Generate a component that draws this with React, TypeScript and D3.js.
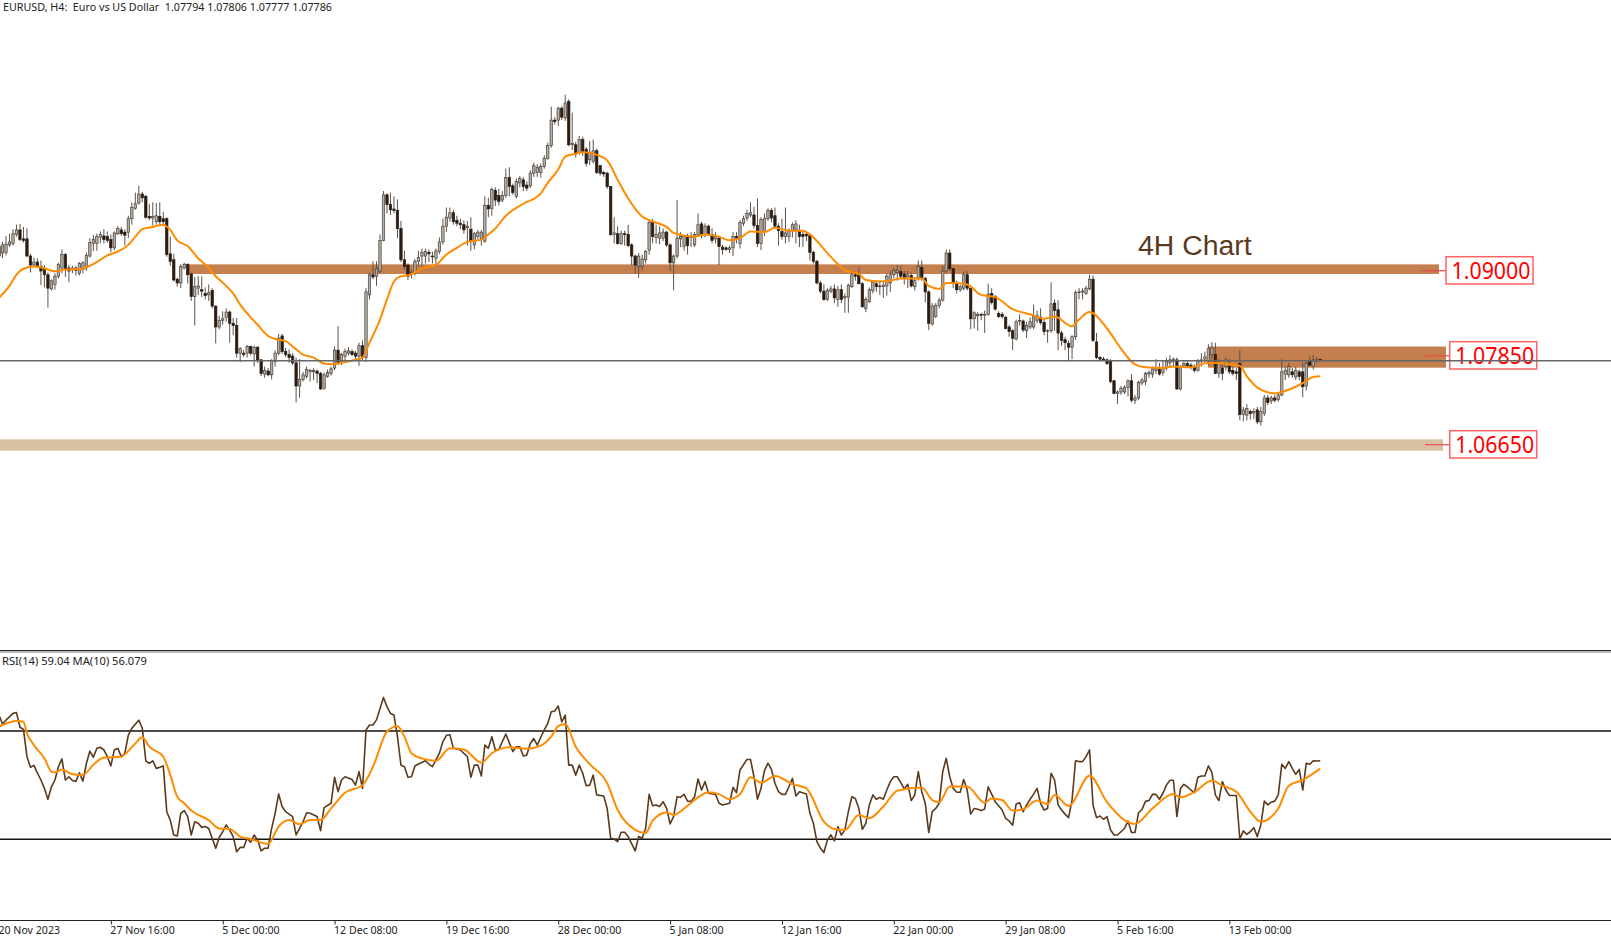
import * as d3 from "d3";
import { useEffect, useRef } from "react";

// prices are kept in pips above 1.0000
const opens = [
  931,922,923,933,935,947,953,941,941,918, 906,910,904,900,893,874,880,891,902,920,
  902,900,902,895,900,902,918,935,935,943, 945,944,940,929,948,953,950,950,968,982,
  989,1001,998,971,969,964,971,968,968,921, 913,887,882,902,907,894,864,875,873,868,
  866,872,851,823,832,836,843,828,825,788, 788,788,797,787,796,779,760,764,759,777,
  788,811,790,786,784,775,744,753,757,763, 763,764,761,741,757,761,768,792,775,784,
  788,790,788,784,798,782,866,893,891,898, 939,1000,987,981,979,955,913,906,893,895,
  911,918,918,923,918,915,924,937,958,969, 976,966,962,960,956,954,933,944,941,938,
  986,982,1006,999,993,999,1023,1012,998,1016, 1020,1013,1012,1029,1030,1030,1038,1049,1066,1100,
  1100,1116,1103,1125,1067,1067,1056,1074,1061,1047, 1045,1059,1039,1030,1029,1011,947,948,935,948,
  947,933,918,904,904,913,926,964,943,942, 942,950,933,909,918,941,931,944,943,933,
  947,961,947,958,947,941,942,930,929,927, 929,944,935,962,969,973,973,959,935,951,
  968,979,972,958,951,944,944,952,953,951, 947,947,946,923,911,882,871,860,871,874,
  860,873,862,863,877,893,893,881,848,857, 872,881,877,877,878,882,893,896,897,894,
  890,892,877,888,903,888,870,827,837,852, 859,898,922,901,881,873,875,893,875,834,
  838,840,839,840,868,864,841,840,836,823, 818,807,831,831,818,823,823,832,836,829,
  817,818,855,846,815,806,801,796,810,869, 870,868,874,887,803,782,780,779,778,751,
  734,736,736,742,751,725,728,748,750,760, 760,765,766,762,768,775,777,779,740,771,
  774,772,770,765,777,780,777,786,786,761, 768,770,770,765,763,774,706,705,710,708,
  712,696,707,728,724,728,726,732,760,759, 763,756,763,763,744,777,770,778,779.4,
];
const closes = [
  918,933,934,937,948,953,940,939,918,906, 910,905,898,893,875,885,891,907,920,900,
  898,902,899,908,909,919,936,940,944,947, 940,939,929,949,955,948,946,968,983,988,
  1001,996,970,969,971,972,964,964,920,911, 886,882,904,907,893,864,877,878,871,865,
  869,851,823,832,834,843,828,825,788,794, 786,797,788,796,779,761,765,759,778,788,
  808,790,786,782,775,744,753,759,766,765, 765,761,740,759,762,767,792,775,786,790,
  791,786,784,798,782,870,893,890,901,939, 1000,987,980,979,955,913,904,891,896,911,
  916,923,924,921,917,925,937,958,970,976, 964,962,960,953,958,938,948,950,950,986,
  981,1007,993,991,999,1023,1011,1003,1018,1022, 1011,1009,1029,1039,1037,1038,1049,1066,1100,1098,
  1116,1104,1123,1067,1069,1055,1074,1058,1042,1057, 1059,1030,1029,1028,1011,947,949,935,948,947,
  932,918,906,918,914,924,963,944,947,949, 950,933,909,918,942,944,944,932,944,947,
  960,947,958,948,939,944,931,927,927,929, 944,942,963,968,975,976,959,935,967,968,
  979,969,958,952,944,949,951,960,961,944, 944,945,923,911,882,871,860,872,874,862,
  873,860,864,879,893,891,881,850,860,873, 883,877,878,879,891,893,899,899,891,889,
  893,878,885,904,888,870,828,851,852,859, 898,922,901,882,873,877,893,875,834,842,
  840,839,840,867,856,847,837,837,821,817, 808,830,832,819,825,830,837,838,829,817,
  818,854,845,815,805,802,796,810,869,870, 871,875,887,805,782,780,779,774,750,734,
  736,741,742,751,725,728,749,752,761,762, 767,767,760,768,777,779,780,740,770,774,
  771,769,765,777,779,783,794,795,761,774, 761,779,763,761,761,706,712,714,707,710,
  696,710,728,722,728,725,732,763,765,770, 759,765,757,743,774,772,779,779,778.6,
];
const highs = [
  935,937,945,948,954,960,961,957,955,921, 916,915,912,906,896,887,895,909,927,922,
  906,905,905,910,911,923,942,946,948,951, 954,951,947,951,958,957,954,972,990,1003,
  1012,1004,1000,988,990,989,990,977,970,944, 921,889,907,909,908,896,890,891,891,876,
  880,875,852,838,844,848,845,835,835,796, 792,799,798,798,797,780,770,768,780,792,
  814,814,795,793,788,782,780,763,770,767, 768,766,763,762,766,770,797,824,788,794,
  796,793,791,802,805,875,896,911,911,947, 1005,1002,1003,998,994,965,925,908,900,914,
  925,928,928,927,924,928,943,968,983,983, 980,972,968,966,965,970,950,953,953,998,
  996,1010,1010,1008,1005,1035,1037,1015,1022,1025, 1024,1018,1033,1043,1041,1042,1053,1070,1118,1104,
  1118,1119,1134,1128,1110,1071,1079,1078,1064,1072, 1074,1062,1040,1032,1031,1012,970,958,952,952,
  960,935,920,922,920,926,967,968,960,958, 955,952,935,920,993,950,946,948,950,950,
  975,964,962,960,955,950,945,933,931,932, 950,950,966,972,980,990,984,995,970,975,
  982,982,983,962,968,983,955,963,966,960, 952,950,949,925,913,885,880,875,878,880,
  878,880,868,881,897,898,903,883,863,876, 886,884,885,883,895,898,902,906,905,898,
  898,896,890,912,912,890,872,855,855,862, 905,927,927,902,885,880,897,898,876,844,
  843,842,845,881,875,866,844,843,838,826, 820,833,840,833,830,836,853,845,848,835,
  820,883,860,859,818,810,805,812,872,875, 875,878,893,892,815,784,783,781,780,752,
  738,744,745,753,760,732,751,755,763,765, 770,780,775,778,782,785,782,782,772,778,
  778,775,773,780,788,790,800,803,802,780, 772,782,780,770,768,792,716,720,712,714,
  716,716,732,732,731,732,735,780,770,775, 768,770,766,775,777,784,786,783,780.6,
];
const lows = [
  910,915,919,930,932,944,938,936,917,896, 903,902,879,876,849,872,873,888,895,890,
  883,895,892,892,895,898,916,925,925,935, 935,936,923,926,946,945,932,942,960,980,
  987,990,968,966,959,960,958,958,917,905, 884,877,875,900,881,858,825,866,863,860,
  858,848,801,820,826,830,802,812,782,776, 783,782,785,770,775,757,755,757,753,770,
  785,787,783,775,772,722,728,750,754,750, 752,748,739,739,755,758,765,772,772,778,
  785,784,780,771,778,776,860,887,878,895, 938,975,973,975,942,910,900,886,888,892,
  905,904,908,910,908,906,921,933,950,964, 960,958,954,948,932,925,927,940,932,936,
  970,972,985,986,990,996,998,1000,995,1010, 1005,1005,1009,1024,1024,1023,1035,1047,1063,1094,
  1092,1100,1099,1065,1060,1050,1054,1052,1038,1040, 1042,1028,1026,1024,1008,945,935,933,933,932,
  930,906,894,889,899,908,920,935,935,934, 938,930,898,872,915,930,925,920,930,930,
  944,942,943,945,935,935,906,920,925,922, 918,935,928,958,965,970,955,930,926,945,
  965,963,955,932,940,935,937,943,935,930, 930,938,912,908,880,868,858,858,868,855,
  850,855,842,842,875,885,880,849,843,855, 868,870,866,862,865,870,888,885,887,880,
  875,876,872,885,885,856,819,825,835,848, 857,895,898,875,868,870,872,872,820,821,
  818,832,815,838,853,845,835,834,820,810, 792,805,825,816,808,820,820,828,826,812,
  802,815,818,792,798,792,777,780,806,860, 860,866,872,803,780,778,777,772,748,733,
  720,732,733,730,722,720,725,745,745,755, 755,760,758,758,765,770,770,739,738,768,
  768,766,762,763,770,775,772,780,760,755, 752,765,760,758,752,698,697,698,699,700,
  693,691,704,718,720,722,723,730,752,755, 755,752,752,729,738,770,766,775,777.7,
];

const priceMa: [number, number][] = [
  [0,862],[3,878],[5,893],[7,901],[10,904],[12,903],[14,900],[16,897.5],[19,900],[24,901],[25,903],[28,910],[31,919],[34,924],[37,933],[39,944],[41,954],[44,957],[47,960],[49,953],
  [51,939],[54,931],[57,915],[60,902],[62,891],[65,878],[67,868],[69,853],[72,836],[74,826],[77,811],[79,807],[82,804],[84,797],[87,786],[90,782],[93,774],[95,773],[98,775],[101,778],
  [104,782],[106,802],[109,833],[111,860],[113,884],[115,891],[117,892],[119,896],[121,901],[123,904],[125,906],[128,920],[131,929],[134,937],[138,940],[140,947],[142,955],[145,972],[150,988],[155,1002],
  [157,1016],[160,1034],[162,1051],[165,1055],[167,1057],[170,1055],[174,1046],[177,1020],[180,995],[184,971],[186,966],[191,957],[193,949],[199,944],[202,947],[206,944],[209,939],[212,942],[215,951],[219,950],
  [222,956],[226,952],[230,952],[232,947],[237,922],[240,907],[242,899],[246,894],[248,886],[252,884],[255,885],[258,888],[264,888],[266,878],[269,874],[271,882],[274,882],[277,880],[281,866],[285,863],
  [290,847],[295,840],[299,834],[302,837],[307,824],[309,833],[312,843],[317,821],[321,794],[325,773],[328,769],[333,768],[336,770],[341,769],[346,775],[351,774],[355,771],[357,757],[361,739],[365,734],
  [367,736],[371,743],[373,748],[376,756],[378,757],
];

const rsi: [number, number][] = [
  [0,75.9],[1,72.6],[2,74],[4,76.5],[5,76.8],[6,71.4],[7,70.6],[8,60.5],[9,56.6],[10,57.3],[11,54.4],[12,51.9],[13,48.8],[14,44.8],[15,49.4],[16,51.9],[17,56.8],[18,59.7],[19,51.9],[20,53.1],
  [21,51.7],[22,51.4],[23,54.6],[24,51.5],[25,58],[26,62.6],[27,60.3],[28,63.6],[29,64],[30,63],[31,60.5],[32,57.1],[33,63],[34,63.6],[35,60.5],[36,61.8],[37,68.5],[38,71],[40,74],[41,71],
  [42,59],[43,58],[44,59],[45,56.2],[46,56.6],[47,57.1],[48,40.2],[49,37.1],[50,31.6],[51,31.2],[52,39.6],[53,40.6],[54,38.4],[55,31.6],[56,36.5],[57,35.9],[58,34.4],[59,34.7],[60,34],[62,26.7],
  [63,30.7],[64,32.8],[65,35.3],[66,33.4],[67,31],[68,25.4],[69,27],[70,27],[71,30.4],[72,28.9],[73,31.6],[74,29.7],[75,25.7],[76,26.7],[77,26.7],[78,34],[79,39.6],[80,46.7],[81,42.1],[82,40.2],
  [84,38.4],[85,31.6],[86,34],[87,36.5],[88,39.8],[89,39.6],[91,38.4],[92,33.2],[93,41.7],[95,43.3],[96,52.9],[97,47.6],[98,51.9],[99,53.1],[101,52.1],[102,50],[103,55],[104,48.8],[105,70.4],[106,72.2],
  [107,72.2],[108,74.1],[110,82.4],[111,79],[112,76.5],[113,75.9],[114,67.9],[115,57.4],[116,56.8],[117,52.9],[118,53.1],[119,57.1],[120,57.8],[122,59],[123,57.8],[124,56.8],[126,61.8],[127,66.1],[128,68.4],[129,68.6],
  [130,63.6],[132,63],[134,60.5],[135,52.9],[136,57.4],[137,57.4],[138,53.4],[139,64.8],[140,63.6],[141,67.9],[142,63],[143,63.2],[145,68.9],[147,62.4],[148,64.2],[149,64.2],[150,60.8],[151,61.1],[152,65.4],[153,67.2],
  [154,64.8],[155,67.7],[156,70.4],[157,72.8],[158,77.1],[159,77.4],[160,79.2],[161,73.4],[162,75.9],[163,57.4],[164,57.4],[165,53.7],[166,57.4],[167,54.4],[168,49.8],[169,50],[170,53.7],[171,46.4],[173,46],[174,41.4],
  [175,30.4],[176,30.1],[177,29.1],[178,32.6],[179,32.6],[180,31],[182,25.7],[183,31],[184,30.4],[185,34],[186,46.6],[187,42.4],[188,42.7],[189,42.1],[190,43.9],[191,41.4],[192,35.7],[193,38.4],[194,45.7],[195,45.5],
  [196,46.6],[197,44.1],[198,44],[199,45.7],[200,52.3],[201,48.2],[202,51.3],[203,47],[205,46.6],[206,43.3],[207,42.7],[209,43.3],[210,49.2],[211,47.2],[212,55.6],[214,59.5],[215,59.5],[216,53.1],[217,44.8],[218,48.8],
  [219,55.4],[220,58.1],[221,55.8],[222,50.7],[223,47.6],[224,46.6],[225,46.6],[226,49.4],[227,52.5],[228,46],[229,47.6],[231,46.7],[232,39.6],[233,35.9],[234,29.1],[235,26.7],[236,25.1],[237,29.7],[238,31.6],[239,29.4],
  [240,34.7],[241,31.6],[242,33.4],[243,40.2],[244,45.7],[245,45.1],[246,41.4],[247,33.7],[248,35.9],[249,42.7],[250,46.4],[251,44.8],[252,45.5],[253,44.8],[254,48.2],[255,51.3],[256,53.1],[257,53.1],[258,50.9],[259,48.6],
  [260,50.3],[261,44.3],[262,46.4],[263,55],[264,47.6],[265,43.3],[266,32.5],[267,40.2],[268,41.4],[269,43.3],[270,55],[271,59.9],[272,53.1],[273,48.8],[274,47.4],[275,47.4],[276,52.1],[277,48.2],[278,39.3],[279,41.4],
  [280,41.1],[281,40.6],[282,41.2],[283,49.4],[284,46.7],[285,43.9],[286,42.4],[287,40.8],[288,37.7],[289,36.8],[290,35.2],[291,43],[292,43.5],[293,40.2],[294,42.7],[295,44.8],[296,46.7],[297,48.8],[298,43.3],[299,40.8],
  [300,41.4],[301,54.4],[302,51.9],[303,42.7],[304,40.8],[305,39.3],[306,38],[307,44.5],[308,59],[309,58.7],[310,58.7],[311,60.5],[312,63],[313,42.7],[314,38],[315,38.6],[316,37.4],[317,38.4],[318,33.5],[319,31.6],
  [320,31.6],[321,32.8],[322,34],[323,36.8],[324,32.5],[325,32.5],[326,39.8],[327,41],[328,44],[329,44.3],[330,46.6],[331,46.6],[332,44.8],[333,47],[334,50],[335,51.8],[336,51.8],[337,38.4],[338,48.8],[339,50.3],
  [340,49.4],[341,48.2],[342,47.2],[343,52.9],[344,53.4],[345,53.4],[346,57.1],[347,54.7],[348,46.4],[349,44.3],[350,51.3],[351,48.2],[352,46.2],[353,46.2],[354,46.2],[355,30.1],[356,33.1],[357,31.8],[358,32.8],[359,34.3],
  [360,31],[361,35.3],[362,44.1],[363,42.7],[364,43.7],[365,44.1],[366,46.4],[367,57.7],[368,56.2],[369,58.7],[370,56.2],[371,54],[372,55.8],[373,48.2],[374,58.1],[375,57.7],[376,59],[377,58.9],[378,59.04],
];

const rsiMa: [number, number][] = [
  [0,71.6],[5,73.7],[7,73.4],[8,69.1],[10,64.8],[13,59.9],[15,55],[16,54.7],[18,55.8],[21,54],[24,53.8],[27,57.5],[30,60.2],[35,60.5],[36,61.4],[39,65.4],[41,67.7],[43,64.2],[47,60.5],[49,53.8],
  [51,45.7],[53,43.3],[55,40.6],[60,37.1],[63,34],[66,33.8],[69,31],[72,30.1],[77,28.3],[80,34.7],[83,37.1],[86,35.6],[89,37.1],[92,37.1],[95,41.4],[99,47.2],[104,50],[107,56.8],[111,69.8],[114,71.8],
  [116,67.9],[118,61.8],[121,59.9],[125,59],[129,63.6],[133,63.2],[138,58.3],[141,61.8],[146,64],[151,63.4],[155,64.6],[158,67.9],[160,71.8],[162,72.6],[165,64.2],[169,57.8],[174,50.7],[177,40.8],[182,33.5],[185,32.3],
  [187,36.9],[191,39.9],[193,39],[197,42.4],[200,45.5],[203,47.4],[206,46.7],[209,44.8],[212,46.7],[215,52.9],[218,50.9],[222,53.4],[227,50.4],[231,48.8],[236,36.5],[239,33.8],[242,33.4],[246,39],[249,37.8],[253,42.1],
  [257,47.9],[264,49.1],[267,44.5],[269,43.7],[272,49.5],[277,49.5],[282,43.5],[284,45.1],[287,44.5],[290,40.6],[293,41.1],[297,44.3],[300,43],[302,46.4],[306,42.3],[312,53.5],[317,43.7],[322,37.1],[325,35.7],[330,41.4],
  [336,46.7],[338,45.5],[342,47.4],[347,51.7],[350,49.8],[354,47.6],[358,40.2],[361,36.5],[366,41.4],[369,49.8],[373,51.9],[378,56.08],
];

const tickBars = [0, 32, 64, 96, 128, 160, 192, 224, 256, 288, 320, 352];
const tickLabels = [
  "20 Nov 2023", "27 Nov 16:00", "5 Dec 00:00", "12 Dec 08:00", "19 Dec 16:00", "28 Dec 00:00",
  "5 Jan 08:00", "12 Jan 16:00", "22 Jan 00:00", "29 Jan 08:00", "5 Feb 16:00", "13 Feb 00:00",
];

const levels = [1.09, 1.0785, 1.0665];
const levelLabels = ["1.09000", "1.07850", "1.06650"];
const bandLow = [1.0894, 1.07685, 1.06574];
const bandHigh = [1.09074, 1.07976, 1.0673];
const lastClose = 1.07786;
const rsiLevels = [70, 30];

const W = 1611;
const H = 941;
const priceOf = (pips: number) => 1 + pips / 10000;

const App = () => {
  const ref = useRef<SVGSVGElement | null>(null);

  useEffect(() => {
    if (!ref.current) return;
    const svg = d3.select(ref.current);
    svg.selectAll("*").remove();
    const font = "'Noto Sans', sans-serif";

    const x = d3.scaleLinear().domain([0, 32]).range([-1, 110.85]);
    const y = d3.scaleLinear().domain([1.0665, 1.09]).range([445, 269.5]);
    const yRsi = d3.scaleLinear().domain([30, 70]).range([839.3, 731]);

    svg.append("rect").attr("width", W).attr("height", H).attr("fill", "#fff");

    // supply / demand zones
    const bandStart = [188, 1208, 0];
    const bandEnd = [1439, 1446, 1443];
    const bandFill = ["#c47f4e", "#c47f4e", "#d9c0a5"];
    const bandEdge = ["#ddb092", "#e3c4ae", "#e6d6c4"];
    const bands = svg.append("g");
    bands.selectAll("rect").data(levels).join("rect")
      .attr("x", (_, i) => bandStart[i])
      .attr("width", (_, i) => bandEnd[i] - bandStart[i])
      .attr("y", (_, i) => y(bandHigh[i]))
      .attr("height", (_, i) => y(bandLow[i]) - y(bandHigh[i]))
      .attr("fill", (_, i) => bandFill[i]);
    bands.selectAll("line").data(levels).join("line")
      .attr("x1", (_, i) => bandStart[i])
      .attr("x2", (_, i) => bandEnd[i])
      .attr("y1", (_, i) => y(bandHigh[i]) + 0.5)
      .attr("y2", (_, i) => y(bandHigh[i]) + 0.5)
      .attr("stroke", (_, i) => bandEdge[i]);

    // candles
    const bars = d3.range(opens.length);
    const candles = svg.append("g");
    candles.selectAll("line").data(bars).join("line")
      .attr("x1", (i) => x(i)).attr("x2", (i) => x(i))
      .attr("y1", (i) => y(priceOf(highs[i]))).attr("y2", (i) => y(priceOf(lows[i])))
      .attr("stroke", "#5a534c").attr("stroke-width", 1);
    candles.selectAll("rect").data(bars).join("rect")
      .attr("x", (i) => x(i) - 1.2)
      .attr("width", 2.4)
      .attr("y", (i) => y(priceOf(Math.max(opens[i], closes[i]))))
      .attr("height", (i) => Math.max(0.8, Math.abs(y(priceOf(opens[i])) - y(priceOf(closes[i])))))
      .attr("fill", (i) => (closes[i] >= opens[i] ? "#b5aea6" : "#2b1c12"))
      .attr("stroke", (i) => (closes[i] >= opens[i] ? "#4a4038" : "#2b1c12"))
      .attr("stroke-width", 0.7);

    const maLine = d3.line<[number, number]>()
      .x((d) => x(d[0]))
      .y((d) => y(priceOf(d[1])))
      .curve(d3.curveMonotoneX);
    svg.append("path").attr("d", maLine(priceMa)).attr("fill", "none")
      .attr("stroke", "#ff8c00").attr("stroke-width", 2);

    // level labels
    const boxX = [1446, 1449.7, 1449.7];
    const boxY = [256.7, 341.7, 430.7];
    const stubX = [1422, 1425, 1425];
    const labels = svg.append("g");
    labels.selectAll("line").data(levels).join("line")
      .attr("x1", (_, i) => stubX[i]).attr("x2", (_, i) => boxX[i])
      .attr("y1", (_, i) => boxY[i] + 14).attr("y2", (_, i) => boxY[i] + 14)
      .attr("stroke", "#ef4a4a").attr("stroke-width", 1.2);
    labels.selectAll("rect").data(levels).join("rect")
      .attr("x", (_, i) => boxX[i]).attr("width", 87)
      .attr("y", (_, i) => boxY[i]).attr("height", 27.3)
      .attr("fill", "none").attr("stroke", "#ff6262").attr("stroke-width", 1.5);
    labels.selectAll("text").data(levels).join("text")
      .attr("x", (_, i) => boxX[i] + 5.5)
      .attr("y", (_, i) => boxY[i] + 22.2)
      .attr("textLength", 79).attr("lengthAdjust", "spacingAndGlyphs")
      .attr("font-family", font).attr("font-size", 23).attr("fill", "#ff0000")
      .text((_, i) => levelLabels[i]);

    svg.append("line").attr("x1", 0).attr("x2", W)
      .attr("y1", y(lastClose) + 0.6).attr("y2", y(lastClose) + 0.6)
      .attr("stroke", "#666").attr("stroke-width", 1.6);

    svg.append("text").attr("x", 1138).attr("y", 255.2)
      .attr("font-family", "'Liberation Sans', Arial, sans-serif").attr("font-size", 28.4)
      .attr("fill", "#5a3a1e").text("4H Chart");

    svg.append("text").attr("x", 3).attr("y", 11)
      .attr("textLength", 329).attr("lengthAdjust", "spacingAndGlyphs")
      .attr("font-family", font).attr("font-size", 10.5).attr("fill", "#222")
      .attr("xml:space", "preserve")
      .text("EURUSD, H4:  Euro vs US Dollar  1.07794 1.07806 1.07777 1.07786");

    // RSI pane
    svg.append("line").attr("x1", 0).attr("x2", W).attr("y1", 650.5).attr("y2", 650.5)
      .attr("stroke", "#222").attr("stroke-width", 1);
    svg.append("line").attr("x1", 0).attr("x2", W).attr("y1", 652).attr("y2", 652)
      .attr("stroke", "#777").attr("stroke-width", 1);
    svg.append("text").attr("x", 2).attr("y", 665)
      .attr("textLength", 145).attr("lengthAdjust", "spacingAndGlyphs")
      .attr("font-family", font).attr("font-size", 10.5).attr("fill", "#222")
      .text("RSI(14) 59.04 MA(10) 56.079");

    svg.append("g").selectAll("line").data(rsiLevels).join("line")
      .attr("x1", 0).attr("x2", W)
      .attr("y1", (d) => yRsi(d)).attr("y2", (d) => yRsi(d))
      .attr("stroke", "#111").attr("stroke-width", 1.6);

    const rsiLine = d3.line<[number, number]>().x((d) => x(d[0])).y((d) => yRsi(d[1]));
    svg.append("path").attr("d", rsiLine(rsi)).attr("fill", "none")
      .attr("stroke", "#5a3a1e").attr("stroke-width", 1.6).attr("stroke-linejoin", "round");
    svg.append("path").attr("d", rsiLine.curve(d3.curveMonotoneX)(rsiMa)).attr("fill", "none")
      .attr("stroke", "#ff8c00").attr("stroke-width", 2);

    // time axis
    const axis = d3.axisBottom(x)
      .tickValues(tickBars)
      .tickSize(4)
      .tickFormat((_, i) => tickLabels[i]);
    const axisG = svg.append("g").attr("transform", "translate(0,920.5)").call(axis);
    axisG.select(".domain").attr("d", `M0,0H${W}`).attr("stroke", "#222");
    axisG.selectAll(".tick line").attr("stroke", "#222");
    axisG.selectAll("text")
      .attr("text-anchor", "start")
      .attr("x", -1)
      .attr("y", 6)
      .attr("dy", "0.71em")
      .attr("font-family", font).attr("font-size", 10.6).attr("fill", "#222");
  }, []);

  return (
    <svg
      ref={ref}
      width={W}
      height={H}
      style={{ position: "absolute", left: 0, top: 0, display: "block" }}
    />
  );
};

export default App;
